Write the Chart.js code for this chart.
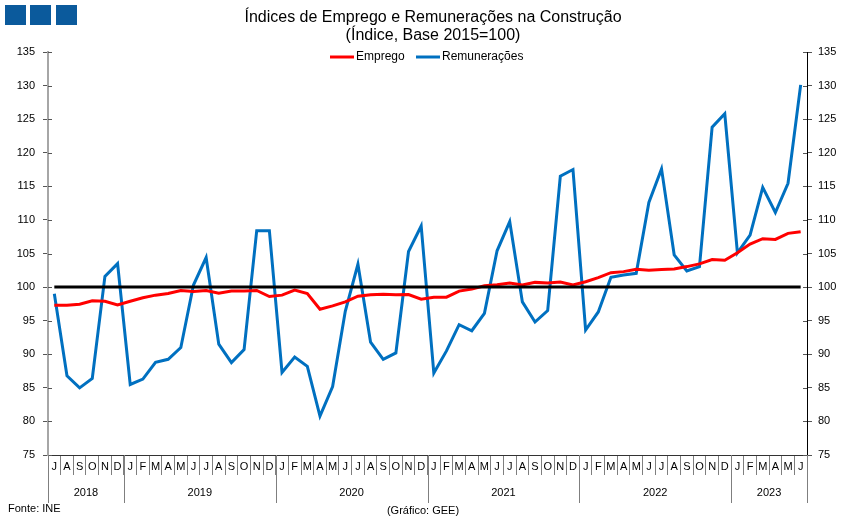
<!DOCTYPE html>
<html>
<head>
<meta charset="utf-8">
<script src="https://cdn.jsdelivr.net/npm/chart.js@4.4.0/dist/chart.umd.min.js"></script>
<style>
  html, body { margin: 0; padding: 0; background: #fff; }
</style>
</head>
<body>
<canvas id="construcaoChart" width="851" height="525"></canvas>
<script>
// month letters, Jul 2018 .. Jun 2023
var months = [
  'J','A','S','O','N','D',
  'J','F','M','A','M','J','J','A','S','O','N','D',
  'J','F','M','A','M','J','J','A','S','O','N','D',
  'J','F','M','A','M','J','J','A','S','O','N','D',
  'J','F','M','A','M','J','J','A','S','O','N','D',
  'J','F','M','A','M','J'
];
var years = ['2018', '2019', '2020', '2021', '2022', '2023'];
var monthsPerYear = [6, 12, 12, 12, 12, 6];

var emprego = [
  97.3, 97.3, 97.45, 97.95, 97.9, 97.35,
  97.9, 98.4, 98.8, 99.05, 99.5, 99.35, 99.5, 99.1, 99.4, 99.4, 99.5, 98.6,
  98.8, 99.55, 99.05, 96.7, 97.2, 97.8, 98.65, 98.85, 98.95, 98.85, 98.9, 98.2,
  98.5, 98.5, 99.4, 99.7, 100.2, 100.35, 100.6, 100.3, 100.7, 100.6, 100.75, 100.3,
  100.8, 101.4, 102.15, 102.3, 102.65, 102.5, 102.6, 102.7, 103.05, 103.45, 104.1, 104.0,
  105.1, 106.4, 107.2, 107.1, 108.0, 108.25
];
var remuneracoes = [
  99.0, 86.8, 85.0, 86.4, 101.6, 103.5,
  85.5, 86.3, 88.8, 89.25, 91.0, 100.3, 104.4, 91.5, 88.75, 90.7, 108.4, 108.4,
  87.3, 89.6, 88.2, 80.8, 85.2, 96.4, 103.4, 91.8, 89.25, 90.2, 105.3, 109.1,
  87.2, 90.5, 94.4, 93.5, 96.1, 105.4, 109.75, 97.8, 94.8, 96.5, 116.5, 117.5,
  93.6, 96.3, 101.45, 101.8, 102.05, 112.6, 117.6, 104.8, 102.4, 103.05, 123.8, 125.8,
  105.1, 107.75, 114.85, 111.1, 115.45, 130.1
];
var baseValue = 100;

var FONT = '"Liberation Sans", Arial, sans-serif';

var decoPlugin = {
  id: 'deco',
  afterDatasetsDraw: function(chart) {
    var ctx = chart.ctx, x = chart.scales.x, y = chart.scales.y;
    var yb = y.getPixelForValue(baseValue);
    ctx.save();
    ctx.strokeStyle = '#000';
    ctx.lineWidth = 3;
    ctx.beginPath();
    ctx.moveTo(x.getPixelForValue(0), yb);
    ctx.lineTo(x.getPixelForValue(months.length - 1), yb);
    ctx.stroke();
    ctx.restore();
  },
  afterDraw: function(chart) {
    var ctx = chart.ctx, x = chart.scales.x, y = chart.scales.y, y2 = chart.scales.y2;
    var area = chart.chartArea;
    ctx.save();

    // three blue squares top-left
    ctx.fillStyle = '#0b5a9c';
    [5, 30, 56].forEach(function(sx) { ctx.fillRect(sx, 5, 21, 20); });

    // title
    ctx.fillStyle = '#000';
    ctx.textAlign = 'center';
    ctx.textBaseline = 'middle';
    ctx.font = '16px ' + FONT;
    ctx.fillText('Índices de Emprego e Remunerações na Construção', 433, 18);
    ctx.fillText('(Índice, Base 2015=100)', 433, 36);

    // legend
    ctx.font = '12px ' + FONT;
    ctx.textAlign = 'left';
    var lx = [330, 416];
    chart.data.datasets.forEach(function(ds, i) {
      ctx.strokeStyle = ds.borderColor;
      ctx.lineWidth = 3;
      ctx.beginPath();
      ctx.moveTo(lx[i], 57);
      ctx.lineTo(lx[i] + 24, 57);
      ctx.stroke();
      ctx.fillStyle = '#000';
      ctx.fillText(ds.label, lx[i] + 26, 57);
    });

    // y tick marks crossing the axes
    ctx.lineWidth = 1;
    ctx.strokeStyle = '#555';
    y.ticks.forEach(function(t) {
      var py = Math.round(y.getPixelForValue(t.value)) + 0.5;
      ctx.beginPath();
      ctx.moveTo(area.left, py); ctx.lineTo(area.left + 4, py);
      ctx.moveTo(area.right - 4, py); ctx.lineTo(area.right, py);
      ctx.stroke();
    });

    // year groups
    var half = (x.getPixelForValue(1) - x.getPixelForValue(0)) / 2;
    var start = 0;
    ctx.strokeStyle = '#7f7f7f';
    ctx.font = '11px ' + FONT;
    ctx.textAlign = 'center';
    ctx.fillStyle = '#000';
    years.forEach(function(yr, i) {
      var x0 = x.getPixelForValue(start) - half;
      var x1 = x.getPixelForValue(start + monthsPerYear[i] - 1) + half;
      ctx.beginPath();
      ctx.moveTo(Math.round(x0) + 0.5, area.bottom);
      ctx.lineTo(Math.round(x0) + 0.5, 503);
      if (i === years.length - 1) {
        ctx.moveTo(Math.round(x1) + 0.5, area.bottom);
        ctx.lineTo(Math.round(x1) + 0.5, 503);
      }
      ctx.stroke();
      ctx.fillText(yr, (x0 + x1) / 2, 493);
      start += monthsPerYear[i];
    });

    // footer
    ctx.textAlign = 'left';
    ctx.fillText('Fonte: INE', 8, 509);
    ctx.textAlign = 'center';
    ctx.fillText('(Gráfico: GEE)', 423, 511);
    ctx.restore();
  }
};

var ctx = document.getElementById('construcaoChart').getContext('2d');
var myChart = new Chart(ctx, {
  type: 'line',
  data: {
    labels: months,
    datasets: [{
      label: 'Emprego',
      data: emprego,
      borderColor: '#ff0000',
      borderWidth: 3,
      pointRadius: 0,
      tension: 0,
      yAxisID: 'y'
    }, {
      label: 'Remunerações',
      data: remuneracoes,
      borderColor: '#0070c0',
      borderWidth: 3,
      pointRadius: 0,
      tension: 0,
      yAxisID: 'y'
    }]
  },
  options: {
    responsive: false,
    animation: false,
    devicePixelRatio: 1,
    layout: { padding: { top: 52, left: 0, right: 0, bottom: 0 } },
    plugins: {
      legend: { display: false },
      title: { display: false },
      tooltip: { enabled: false }
    },
    scales: {
      x: {
        offset: true,
        grid: { offset: true, drawOnChartArea: false, tickLength: 20, color: '#7f7f7f' },
        border: { color: '#333', width: 1 },
        ticks: {
          autoSkip: false, maxRotation: 0, padding: -15,
          color: '#000', font: { family: FONT, size: 11 }
        },
        afterFit: function(s) { s.height = 70; }
      },
      y: {
        position: 'left',
        min: 75, max: 135,
        ticks: { stepSize: 5, padding: 8, color: '#000', font: { family: FONT, size: 11 } },
        grid: { drawOnChartArea: false, tickLength: 5, color: '#555' },
        border: { color: '#a6a6a6', width: 2 },
        afterFit: function(s) { s.width = 48; }
      },
      y2: {
        position: 'right',
        min: 75, max: 135,
        ticks: { stepSize: 5, padding: 6, color: '#000', font: { family: FONT, size: 11 } },
        grid: { drawOnChartArea: false, tickLength: 5, color: '#555' },
        border: { color: '#000', width: 1 },
        afterFit: function(s) { s.width = 44; }
      }
    }
  },
  plugins: [decoPlugin]
});
</script>
</body>
</html>
